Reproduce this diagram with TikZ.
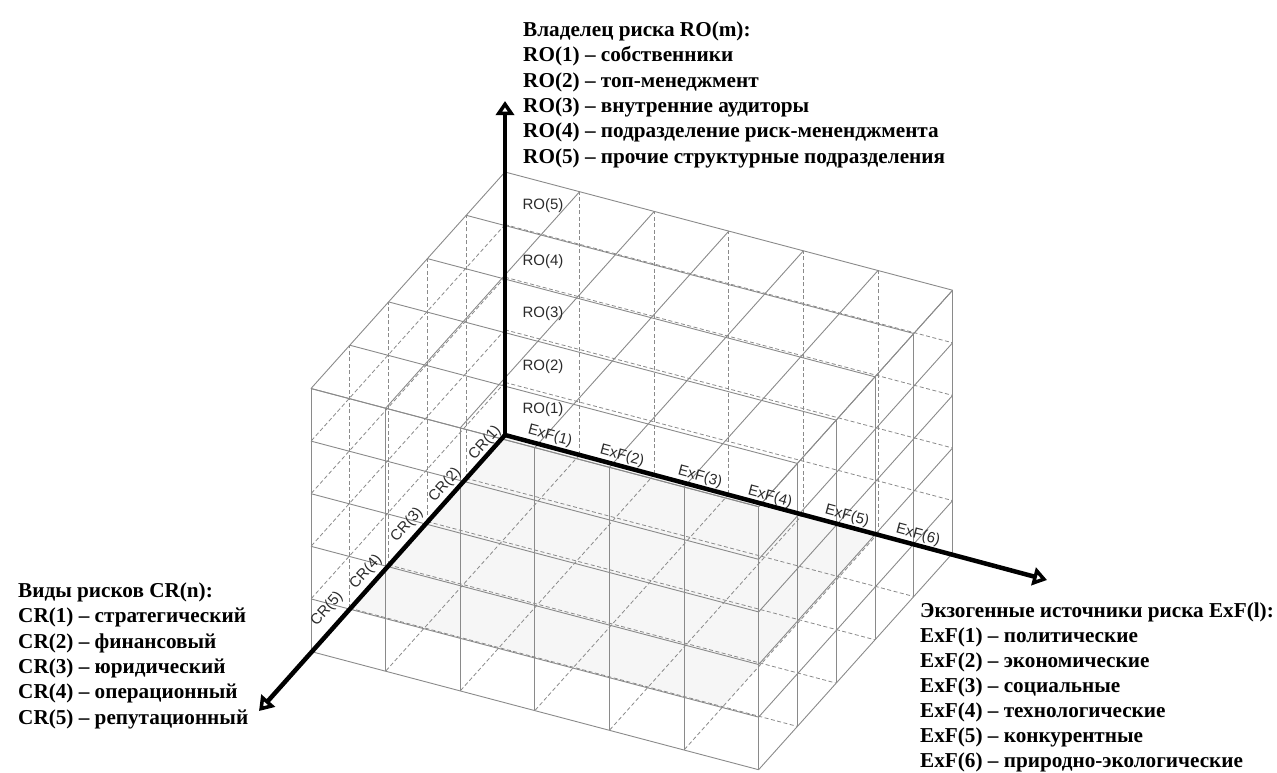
\documentclass[tikz,border=0pt]{standalone}
\usepackage{fontspec}
\setmainfont{Liberation Serif}
\newfontfamily\axisfont{Liberation Sans}
\usetikzlibrary{arrows.meta}

\definecolor{gridgray}{HTML}{8A8A8A}
\definecolor{floorgray}{HTML}{F6F6F6}
\definecolor{labelgray}{HTML}{2A2A2A}

\tikzset{
  visible/.style={draw=gridgray, line width=0.9pt},
  hidden/.style={draw=gridgray, line width=0.8pt, dash pattern=on 4pt off 2.5pt},
  axis/.style={line width=4.5pt, -{Triangle[open, length=14pt, width=18pt]}},
  ticklabel/.style={font=\axisfont\fontsize{15}{18}\selectfont, text=labelgray, inner sep=0pt},
  legend/.style={font=\bfseries\fontsize{21.2}{25}\selectfont, anchor=base west, inner sep=0pt},
}

\begin{document}
\begin{tikzpicture}[x=1pt, y=-1pt]
\useasboundingbox (0,0) rectangle (1277,772);

% lattice points: i along ExF, j along CR, k along RO
\begin{scope}[shift={(505pt,-435pt)}, x={(74.6pt,-19.7pt)}, y={(-38.8pt,-43.3pt)}, z={(0pt,52.6pt)}]
  \foreach \i in {0,...,6}
    \foreach \j in {0,...,5}
      \foreach \k in {0,...,5}
        \coordinate (g-\i-\j-\k) at (\i,\j,\k);
\end{scope}

% light floor
\fill[floorgray] (g-0-0-0) -- (g-5-0-0) -- (g-5-4-0) -- (g-0-4-0) -- cycle;

% hidden faces: back (j=0), left (i=0), bottom (k=0)
\foreach \i in {1,...,5} \draw[hidden] (g-\i-0-0) -- (g-\i-0-5);
\foreach \k in {1,...,4} \draw[hidden] (g-0-0-\k) -- (g-6-0-\k);
\foreach \j in {1,...,4} \draw[hidden] (g-0-\j-0) -- (g-0-\j-5);
\foreach \k in {1,...,4} \draw[hidden] (g-0-0-\k) -- (g-0-5-\k);
\foreach \i in {1,...,5} \draw[hidden] (g-\i-0-0) -- (g-\i-5-0);
\foreach \j in {1,...,4} \draw[hidden] (g-0-\j-0) -- (g-6-\j-0);

% visible faces: top (k=5), front (j=5), right (i=6)
\foreach \i in {0,...,6} \draw[visible] (g-\i-0-5) -- (g-\i-5-5);
\foreach \j in {0,...,5} \draw[visible] (g-0-\j-5) -- (g-6-\j-5);
\foreach \i in {0,...,6} \draw[visible] (g-\i-5-0) -- (g-\i-5-5);
\foreach \k in {0,...,5} \draw[visible] (g-0-5-\k) -- (g-6-5-\k);
\foreach \j in {0,...,5} \draw[visible] (g-6-\j-0) -- (g-6-\j-5);
\foreach \k in {0,...,5} \draw[visible] (g-6-0-\k) -- (g-6-5-\k);

% axes
\coordinate (origin) at (505,435);
\coordinate (ro-end) at (505,101);
\coordinate (exf-end) at (1047,580);
\coordinate (cr-end) at (259,711);
\draw[axis] (origin) -- (ro-end);
\draw[axis] (origin) -- (exf-end);
\draw[axis] (origin) -- (cr-end);

% axis scale labels
\node[ticklabel] (ro1) at (543,410) {RO(1)};
\node[ticklabel] (ro2) at (543,367) {RO(2)};
\node[ticklabel] (ro3) at (543,314) {RO(3)};
\node[ticklabel] (ro4) at (543,262) {RO(4)};
\node[ticklabel] (ro5) at (543,206) {RO(5)};

\node[ticklabel, rotate=-15] (exf1) at (550,436) {ExF(1)};
\node[ticklabel, rotate=-15] (exf2) at (622,456) {ExF(2)};
\node[ticklabel, rotate=-15] (exf3) at (700,477) {ExF(3)};
\node[ticklabel, rotate=-15] (exf4) at (770,497) {ExF(4)};
\node[ticklabel, rotate=-15] (exf5) at (847,516) {ExF(5)};
\node[ticklabel, rotate=-15] (exf6) at (918,535) {ExF(6)};

\node[ticklabel, rotate=48] (cr1) at (485,443) {CR(1)};
\node[ticklabel, rotate=48] (cr2) at (445,485) {CR(2)};
\node[ticklabel, rotate=48] (cr3) at (407,525) {CR(3)};
\node[ticklabel, rotate=48] (cr4) at (366,572) {CR(4)};
\node[ticklabel, rotate=48] (cr5) at (327,609) {CR(5)};

% legend: risk owners
\node[legend] (ro-head) at (523,36)    {Владелец риска RO(m):};
\node[legend] (ro-t1)   at (523,61.5)  {RO(1) – собственники};
\node[legend] (ro-t2)   at (523,87)    {RO(2) – топ-менеджмент};
\node[legend] (ro-t3)   at (523,112)   {RO(3) – внутренние аудиторы};
\node[legend] (ro-t4)   at (523,137.5) {RO(4) – подразделение риск-мененджмента};
\node[legend] (ro-t5)   at (523,163)   {RO(5) – прочие структурные подразделения};

% legend: risk types
\node[legend] (cr-head) at (18,597) {Виды рисков CR(n):};
\node[legend] (cr-t1)   at (18,622) {CR(1) – стратегический};
\node[legend] (cr-t2)   at (18,648) {CR(2) – финансовый};
\node[legend] (cr-t3)   at (18,673) {CR(3) – юридический};
\node[legend] (cr-t4)   at (18,698) {CR(4) – операционный};
\node[legend] (cr-t5)   at (18,724) {CR(5) – репутационный};

% legend: exogenous sources
\node[legend] (exf-head) at (920,617) {Экзогенные источники риска ExF(l):};
\node[legend] (exf-t1)   at (920,642) {ExF(1) – политические};
\node[legend] (exf-t2)   at (920,667) {ExF(2) – экономические};
\node[legend] (exf-t3)   at (920,692) {ExF(3) – социальные};
\node[legend] (exf-t4)   at (920,717) {ExF(4) – технологические};
\node[legend] (exf-t5)   at (920,742) {ExF(5) – конкурентные};
\node[legend] (exf-t6)   at (920,767) {ExF(6) – природно-экологические};
\end{tikzpicture}
\end{document}
